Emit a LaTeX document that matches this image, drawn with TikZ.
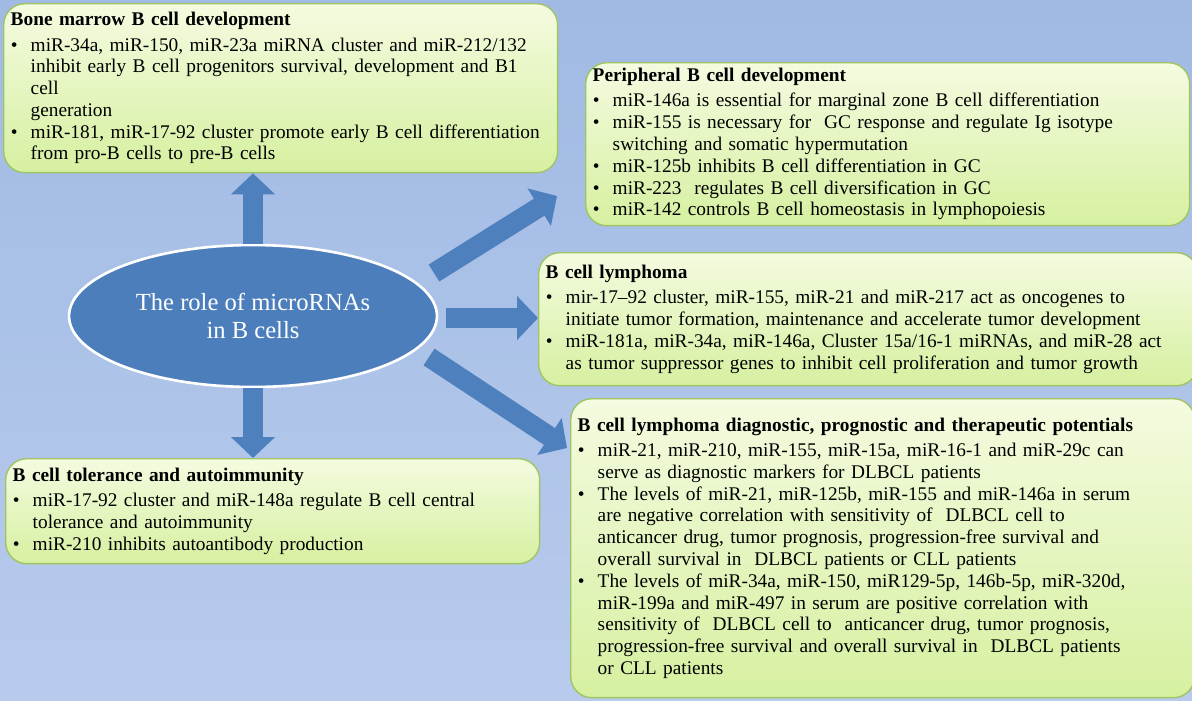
\documentclass[tikz,border=0pt]{standalone}
\usepackage{fontspec}
\setmainfont{Liberation Serif}
\usepackage{enumitem}
\usetikzlibrary{arrows.meta,shapes.geometric}
\definecolor{bgtop}{RGB}{160,186,228}
\definecolor{bgbot}{RGB}{184,203,236}
\definecolor{boxtop}{RGB}{244,251,224}
\definecolor{boxbot}{RGB}{214,240,160}
\definecolor{boxline}{RGB}{160,196,100}
\definecolor{roleblue}{RGB}{76,126,188}
\definecolor{arrowblue}{RGB}{78,128,190}
\setlist[itemize]{label=\textbullet,leftmargin=0.4cm,labelsep=0.26cm,itemsep=0pt,topsep=2pt,parsep=0pt,partopsep=0pt}
\tikzset{
  infobox/.style={rectangle, draw=boxline, line width=0.8pt, rounded corners=12pt,
    top color=boxtop, bottom color=boxbot, anchor=north west, align=left,
    inner xsep=4pt, inner ysep=3pt,
    font=\fontsize{11}{12.4}\selectfont},
  bigarrow/.style={draw=arrowblue, line width=0.4cm,
    -{Triangle[length=0.42cm,width=0.86cm]}}
}
\newcommand{\boxtext}[2]{\textbf{#1}\par\begin{itemize}#2\end{itemize}}

\begin{document}
\begin{tikzpicture}[x=0.02cm, y=-0.02cm]
	% Background
	\shade[top color=bgtop, bottom color=bgbot] (0,0) rectangle (1192,700);
	\useasboundingbox (0,0) rectangle (1192,700);

	% Place nodes
	\node [ellipse, fill=roleblue, draw=white, line width=1.5pt, minimum width=7.36cm,
		minimum height=2.84cm, text=white, align=center, font=\fontsize{14}{16}\selectfont]
		at (253,316) (role) {The role of microRNAs\\in B cells};

	\node [infobox, text width=10.8cm, minimum height=3.38cm] at (3,3) (bone) {\boxtext{Bone marrow B cell development}{
		\item miR-34a, miR-150, miR-23a miRNA cluster and miR-212/132\newline inhibit early B cell progenitors survival, development and B1 cell\newline generation
		\item miR-181, miR-17-92 cluster promote early B cell differentiation\newline from pro-B cells to pre-B cells}};

	\node [infobox, text width=11.8cm, minimum height=3.26cm] at (585,62) (periph) {\boxtext{Peripheral B cell development}{
		\item miR-146a is essential for marginal zone B cell differentiation
		\item miR-155 is necessary for\ \ GC response and regulate Ig isotype\newline switching and somatic hypermutation
		\item miR-125b inhibits B cell differentiation in GC
		\item miR-223\ \ regulates B cell diversification in GC
		\item miR-142 controls B cell homeostasis in lymphopoiesis}};

	\node [infobox, text width=12.9cm, minimum height=2.66cm] at (538,252) (lymph) {\boxtext{B cell lymphoma}{
		\item mir-17--92 cluster, miR-155, miR-21 and miR-217 act as oncogenes to\newline initiate tumor formation, maintenance and accelerate tumor development
		\item miR-181a, miR-34a, miR-146a, Cluster 15a/16-1 miRNAs, and miR-28 act\newline as tumor suppressor genes to inhibit cell proliferation and tumor growth}};

	\node [infobox, text width=12.2cm, minimum height=5.98cm] at (570,398) (diag) {\boxtext{B cell lymphoma diagnostic, prognostic and therapeutic potentials}{
		\item miR-21, miR-210, miR-155, miR-15a, miR-16-1 and miR-29c can\newline serve as diagnostic markers for DLBCL patients
		\item The levels of miR-21, miR-125b, miR-155 and miR-146a in serum\newline are negative correlation with sensitivity of\ \ DLBCL cell to\newline anticancer drug, tumor prognosis, progression-free survival and\newline overall survival in\ \ DLBCL patients or CLL patients
		\item The levels of miR-34a, miR-150, miR129-5p, 146b-5p, miR-320d,\newline miR-199a and miR-497 in serum are positive correlation with\newline sensitivity of\ \ DLBCL cell to\ \ anticancer drug, tumor prognosis,\newline progression-free survival and overall survival in\ \ DLBCL patients\newline or CLL patients}};

	\node [infobox, text width=10.4cm, minimum height=2.1cm] at (5,458) (toler) {\boxtext{B cell tolerance and autoimmunity}{
		\item miR-17-92 cluster and miR-148a regulate B cell central\newline tolerance and autoimmunity
		\item miR-210 inhibits autoantibody production}};

	% Arrows
	\coordinate (upright) at (434,273);
	\coordinate (midright) at (446,318);
	\coordinate (lowright) at (429,357);
	\coordinate (periphend) at (557,196);
	\coordinate (diagend) at (567,448);

	\draw[bigarrow] (role.north) -- (role.north |- bone.south);
	\draw[bigarrow] (role.south) -- (role.south |- toler.north);
	\draw[bigarrow] (midright) -- (midright -| lymph.west);
	\draw[bigarrow] (upright) -- (periphend);
	\draw[bigarrow] (lowright) -- (diagend);
\end{tikzpicture}
\end{document}
